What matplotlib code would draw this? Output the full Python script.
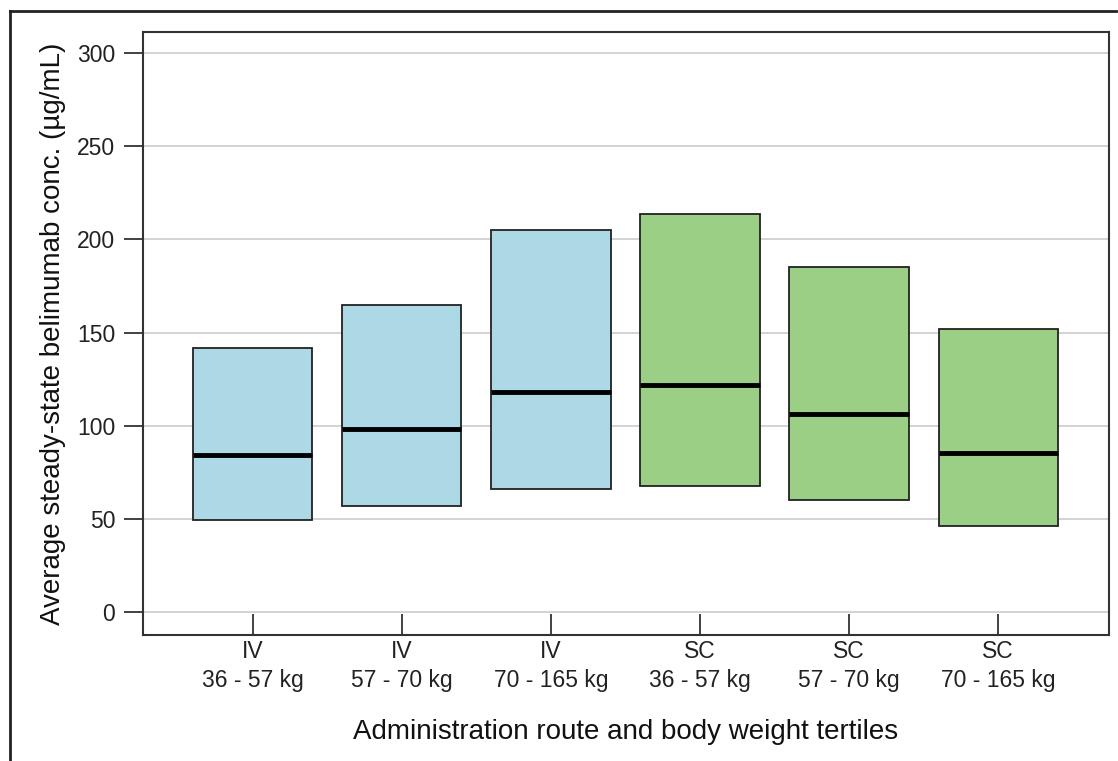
import matplotlib
matplotlib.use("Agg")
import matplotlib.pyplot as plt
from matplotlib.lines import Line2D

routes = ["IV", "IV", "IV", "SC", "SC", "SC"]
weights = ["36 - 57 kg", "57 - 70 kg", "70 - 165 kg", "36 - 57 kg", "57 - 70 kg", "70 - 165 kg"]
lower = [49.5, 57, 66, 67.5, 60, 46]
median = [84, 98, 118, 122, 106, 85]
upper = [141.5, 165, 205, 213.5, 185, 152]
colors = ["#ADD8E6", "#ADD8E6", "#ADD8E6", "#9CCF86", "#9CCF86", "#9CCF86"]
yticks = [0, 50, 100, 150, 200, 250, 300]

plt.rcParams['font.family'] = ['Liberation Sans', 'DejaVu Sans']

fig = plt.figure(figsize=(11.18, 7.61), dpi=100)
ax = fig.add_axes([143/1118, 1-634.7/761, (1108.7-143)/1118, (634.7-32)/761])

x = list(range(len(routes)))
heights = [u - l for u, l in zip(upper, lower)]
ax.bar(x, heights, bottom=lower, width=0.8, color=colors, edgecolor="#222222", linewidth=1.3, zorder=3)
ax.hlines(median, [i - 0.4 for i in x], [i + 0.4 for i in x], colors="black", linewidth=3.5, zorder=4)

ax.set_xlim(-0.736, 5.741)
ax.set_ylim(-12.4, 311.5)
ax.set_yticks(yticks)
ax.set_yticklabels([str(t) for t in yticks], fontsize=16.5, color="#222222")
ax.set_xticks(x)
ax.set_xticklabels([f"{r}\n{w}" for r, w in zip(routes, weights)], fontsize=16.5, color="#222222", linespacing=1.3)
ax.tick_params(axis="y", direction="out", length=14, width=1.3, color="#333333", pad=6)
ax.tick_params(axis="x", direction="in", length=15, width=1.3, color="#333333", pad=4)
ax.yaxis.grid(True, color="#cccccc", linewidth=1.2, zorder=0)
ax.set_axisbelow(True)
for s in ax.spines.values():
    s.set_linewidth(1.5)
    s.set_color("#333333")

ax.set_ylabel("Average steady-state belimumab conc. (µg/mL)", fontsize=20, color="#111111", labelpad=8)
ax.set_xlabel("Administration route and body weight tertiles", fontsize=20, color="#111111", labelpad=20)

fig.add_artist(Line2D([10/1118, 10/1118], [0, 1-11/761], color="#222222", linewidth=2, transform=fig.transFigure))
fig.add_artist(Line2D([10/1118, 1116/1118], [1-11/761, 1-11/761], color="#222222", linewidth=2, transform=fig.transFigure))

fig.savefig("out.png", dpi=100)
